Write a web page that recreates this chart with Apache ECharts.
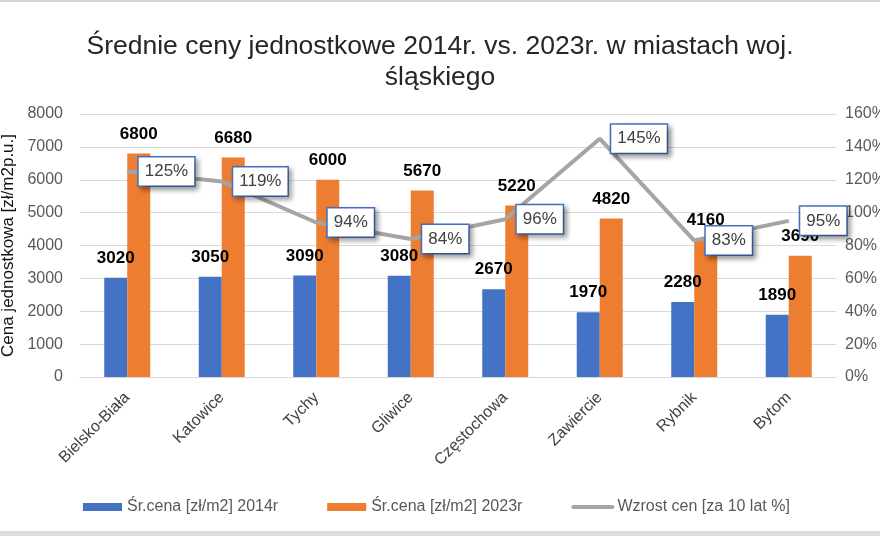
<!DOCTYPE html>
<html>
<head>
<meta charset="utf-8">
<script src="https://cdn.jsdelivr.net/npm/echarts@6/dist/echarts.min.js"></script>
<style>
  html, body { margin: 0; padding: 0; background: #fff; }
  #chart { width: 880px; height: 540px; }
</style>
</head>
<body>
<div id="chart"></div>
<script>
const cities = ['Bielsko-Biała', 'Katowice', 'Tychy', 'Gliwice', 'Częstochowa', 'Zawiercie', 'Rybnik', 'Bytom'];
const price2014 = [3020, 3050, 3090, 3080, 2670, 1970, 2280, 1890];
const price2023 = [6800, 6680, 6000, 5670, 5220, 4820, 4160, 3690];
const growthPct = [125, 119, 94, 84, 96, 145, 83, 95];

const font = "'Liberation Sans', Arial, sans-serif";

const barLabel = {
  show: true,
  position: 'top',
  distance: 11,
  color: '#000',
  fontSize: 17,
  fontWeight: 'bold',
  fontFamily: font,
};

const chart = echarts.init(document.getElementById('chart'));

chart.setOption({
  backgroundColor: '#fff',
  animation: false,
  title: {
    text: 'Średnie ceny jednostkowe 2014r. vs. 2023r. w miastach woj.\nśląskiego',
    left: 'center',
    top: 26,
    textStyle: {
      fontFamily: font,
      fontSize: 26.5,
      fontWeight: 'normal',
      color: '#262626',
      lineHeight: 31,
    },
  },
  grid: {
    left: 80,
    right: 44,
    top: 114,
    bottom: 163,
    outerBoundsMode: 'none',
  },
  legend: {
    left: 78,
    top: 494,
    itemWidth: 39,
    itemHeight: 8,
    itemGap: 49,
    textStyle: {
      fontFamily: font,
      fontSize: 16,
      color: '#595959',
    },
    data: [
      { name: 'Śr.cena [zł/m2] 2014r', icon: 'rect' },
      { name: 'Śr.cena [zł/m2] 2023r', icon: 'rect' },
      {
        name: 'Wzrost cen [za 10 lat %]',
        itemStyle: { opacity: 0 },
        lineStyle: { width: 4, cap: 'round' },
      },
    ],
  },
  xAxis: {
    type: 'category',
    data: cities,
    axisTick: { show: false },
    axisLine: { lineStyle: { color: '#d9d9d9' } },
    axisLabel: {
      rotate: 45,
      margin: 18,
      fontFamily: font,
      fontSize: 16,
      color: '#404040',
    },
  },
  yAxis: [
    {
      type: 'value',
      min: 0,
      max: 8000,
      interval: 1000,
      name: 'Cena jednostkowa [zł/m2p.u.]',
      nameLocation: 'middle',
      nameGap: 60,
      nameTextStyle: {
        fontFamily: font,
        fontSize: 17,
        color: '#111',
      },
      axisLabel: {
        margin: 17,
        formatter: (v) => String(v),
        fontFamily: font,
        fontSize: 16,
        color: '#595959',
      },
      splitLine: { lineStyle: { color: '#d9d9d9' } },
    },
    {
      type: 'value',
      min: 0,
      max: 160,
      interval: 20,
      position: 'right',
      axisLabel: {
        margin: 9,
        formatter: '{value}%',
        fontFamily: font,
        fontSize: 16,
        color: '#595959',
      },
      splitLine: { show: false },
    },
  ],
  series: [
    {
      name: 'Śr.cena [zł/m2] 2014r',
      type: 'bar',
      data: price2014,
      barWidth: 23,
      barGap: '0%',
      itemStyle: { color: '#4472C4' },
      label: barLabel,
    },
    {
      name: 'Śr.cena [zł/m2] 2023r',
      type: 'bar',
      data: price2023,
      barWidth: 23,
      itemStyle: { color: '#ED7D31' },
      label: barLabel,
    },
    {
      name: 'Wzrost cen [za 10 lat %]',
      type: 'line',
      yAxisIndex: 1,
      data: growthPct,
      symbol: 'circle',
      symbolSize: 1,
      showSymbol: true,
      z: 5,
      lineStyle: { color: '#A5A5A5', width: 4 },
      itemStyle: { color: '#A5A5A5' },
      label: {
        show: true,
        position: 'right',
        distance: 11,
        formatter: '{c}%',
        fontFamily: font,
        fontSize: 17,
        color: '#404040',
        backgroundColor: '#fff',
        borderColor: '#4472C4',
        borderWidth: 1.5,
        padding: [6, 6, 5, 6],
        shadowColor: 'rgba(0,0,0,0.35)',
        shadowBlur: 5,
        shadowOffsetX: 3,
        shadowOffsetY: 3,
      },
    },
  ],
  graphic: [
    { type: 'rect', shape: { x: 0, y: 0, width: 880, height: 2 }, style: { fill: '#d6d6d6' } },
    { type: 'rect', shape: { x: 0, y: 531, width: 880, height: 5 }, style: { fill: '#dcdcdc' } },
  ],
});
</script>
</body>
</html>
